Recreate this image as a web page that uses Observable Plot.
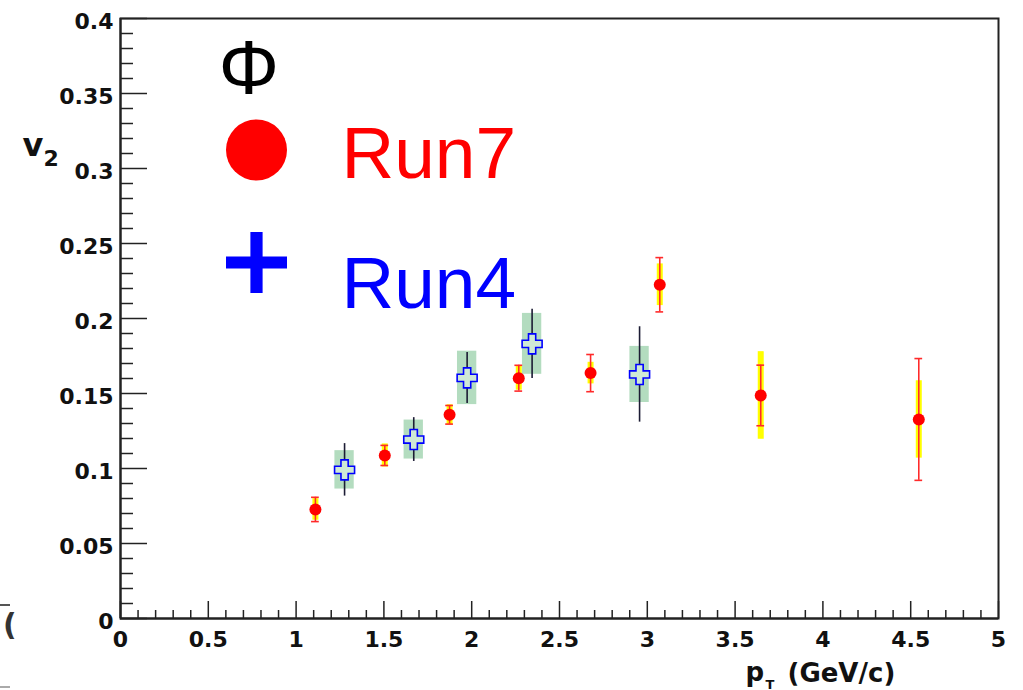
<!DOCTYPE html>
<html><head><meta charset="utf-8">
<script src="https://cdn.jsdelivr.net/npm/d3@7"></script>
<script src="https://cdn.jsdelivr.net/npm/@observablehq/plot@0.6"></script>
<style>
html,body{margin:0;padding:0;background:#fff;}
#chart{width:1023px;height:690px;position:relative;overflow:hidden;}
</style></head>
<body><div id="chart"></div>
<script>
// ---- data ----
const run7X    = [1.110, 1.505, 1.874, 2.268, 2.677, 3.071, 3.646, 4.546];
const run7V2   = [0.0727, 0.1087, 0.1358, 0.1602, 0.1636, 0.2225, 0.1487, 0.1327];
const run7Stat = [0.0081, 0.0067, 0.0062, 0.0086, 0.0124, 0.0181, 0.0202, 0.0406];
const run7Sys  = [0.0072, 0.0077, 0.0067, 0.0080, 0.0072, 0.0139, 0.0292, 0.0258];

const run4X    = [1.276, 1.670, 1.974, 2.344, 2.956];
const run4V2   = [0.0991, 0.1193, 0.1604, 0.1831, 0.1627];
const run4Stat = [0.0175, 0.0146, 0.0170, 0.0231, 0.0318];
const run4Sys  = [0.0128, 0.0130, 0.0178, 0.0203, 0.0187];

const xMajorTicks = [0, 0.5, 1, 1.5, 2, 2.5, 3, 3.5, 4, 4.5, 5];
const xTickLabels = ["0", "0.5", "1", "1.5", "2", "2.5", "3", "3.5", "4", "4.5", "5"];
const yMajorTicks = [0, 0.05, 0.1, 0.15, 0.2, 0.25, 0.3, 0.35, 0.4];
const yTickLabels = ["0", "0.05", "0.1", "0.15", "0.2", "0.25", "0.3", "0.35", "0.4"];

const particleLabel = "Φ";
const seriesLabels = ["Run7", "Run4"];
const xTitleMain = "p", xTitleSub = "T", xTitleRest = "(GeV/c)";
const yTitleMain = "v", yTitleSub = "2";

// ---- tables ----
const run7 = run7X.map((x, i) => ({x, v: run7V2[i], stat: run7Stat[i], sys: run7Sys[i]}));
const run4 = run4X.map((x, i) => ({x, v: run4V2[i], stat: run4Stat[i], sys: run4Sys[i]}));
const run7Caps = run7.flatMap(d => [{x: d.x, y: d.v + d.stat}, {x: d.x, y: d.v - d.stat}]);

const xMinorTicks = d3.range(0, 51).map(i => i / 10).filter(v => Math.abs(v * 2 - Math.round(v * 2)) > 1e-9);
const yMinorTicks = d3.range(0, 41).map(i => i / 100).filter(v => Math.abs(v * 20 - Math.round(v * 20)) > 1e-9);

const W = 1023, H = 690, ML = 120, MR = 25, MT = 18, MB = 72;
const FW = W - ML - MR, FH = H - MT - MB;

function plusSymbol(ratio) {
  return {
    draw(ctx, size) {
      const h = Math.sqrt(size / Math.PI), t = h * ratio;
      ctx.moveTo(-t, -h); ctx.lineTo(t, -h); ctx.lineTo(t, -t); ctx.lineTo(h, -t);
      ctx.lineTo(h, t); ctx.lineTo(t, t); ctx.lineTo(t, h); ctx.lineTo(-t, h);
      ctx.lineTo(-t, t); ctx.lineTo(-h, t); ctx.lineTo(-h, -t); ctx.lineTo(-t, -t);
      ctx.closePath();
    }
  };
}
const openCross = plusSymbol(0.36);
const thickPlus = plusSymbol(0.2);

const tickFont = "DejaVu Sans, Liberation Sans, sans-serif";
const legendFont = "Liberation Sans, Arial, sans-serif";
const ink = "#222";

const chart = Plot.plot({
  width: W, height: H,
  marginLeft: ML, marginRight: MR, marginTop: MT, marginBottom: MB,
  style: {fontFamily: tickFont, fontWeight: "bold", fontSize: "22px", background: "#fff", color: "#111"},
  x: {domain: [0, 5]},
  y: {domain: [0, 0.4]},
  marks: [
    // Run4 systematic boxes
    Plot.rect(run4, {x1: d => d.x - 0.055, x2: d => d.x + 0.055, y1: d => d.v - d.sys, y2: d => d.v + d.sys, fill: "#b3dcbf"}),
    // Run4 statistical errors
    Plot.ruleX(run4, {x: "x", y1: d => d.v - d.stat, y2: d => d.v + d.stat, stroke: "#1c1c34", strokeWidth: 1.6}),
    // Run7 systematics (yellow)
    Plot.ruleX(run7, {x: "x", y1: d => d.v - d.sys, y2: d => d.v + d.sys, stroke: "#ffff00", strokeWidth: 6}),
    // Run7 statistical errors
    Plot.ruleX(run7, {x: "x", y1: d => d.v - d.stat, y2: d => d.v + d.stat, stroke: "#ff2a2a", strokeWidth: 1.6}),
    Plot.ruleY(run7Caps, {y: "y", x1: d => d.x - 0.022, x2: d => d.x + 0.022, stroke: "#ff2a2a", strokeWidth: 1.6}),
    // markers
    Plot.dot(run7, {x: "x", y: "v", r: 6, fill: "#ff0000"}),
    Plot.dot(run4, {x: "x", y: "v", r: 10, symbol: openCross, fill: "#cfe9d5", stroke: "#0000ff", strokeWidth: 1.6}),

    // ticks (inward)
    Plot.tickX(xMajorTicks, {insetTop: FH - 17, stroke: ink, strokeWidth: 1.5}),
    Plot.tickX(xMinorTicks, {insetTop: FH - 8, stroke: ink, strokeWidth: 1.5}),
    Plot.tickY(yMajorTicks, {insetRight: FW - 27, stroke: ink, strokeWidth: 1.5}),
    Plot.tickY(yMinorTicks, {insetRight: FW - 13, stroke: ink, strokeWidth: 1.5}),
    Plot.frame({stroke: ink, strokeWidth: 2}),
    Plot.ruleX([0], {stroke: ink, strokeWidth: 2}),
    Plot.ruleY([0], {stroke: ink, strokeWidth: 2}),

    // axes labels
    Plot.axisX({ticks: xMajorTicks, tickFormat: d => xTickLabels[xMajorTicks.indexOf(d)], tickSize: 0, tickPadding: 13,
      fontSize: 22, fontWeight: "bold", fontFamily: tickFont, fill: "#111", label: null}),
    Plot.axisY({ticks: yMajorTicks, tickFormat: d => yTickLabels[yMajorTicks.indexOf(d)], tickSize: 0, tickPadding: 7,
      fontSize: 22, fontWeight: "bold", fontFamily: tickFont, fill: "#111", dy: 3, label: null}),

    // axis titles
    Plot.text([yTitleMain], {frameAnchor: "top-left", dx: 22 - ML, dy: 155 - MT, lineAnchor: "bottom", textAnchor: "start",
      fontSize: 32, fontWeight: "bold", fontFamily: tickFont, fill: "#111"}),
    Plot.text([yTitleSub], {frameAnchor: "top-left", dx: 43 - ML, dy: 165 - MT, lineAnchor: "bottom", textAnchor: "start",
      fontSize: 22, fontWeight: "bold", fontFamily: tickFont, fill: "#111"}),
    Plot.text([xTitleMain], {frameAnchor: "top-left", dx: 745 - ML, dy: 680 - MT, lineAnchor: "bottom", textAnchor: "start",
      fontSize: 26, fontWeight: "bold", fontFamily: tickFont, fill: "#111"}),
    Plot.text([xTitleSub], {frameAnchor: "top-left", dx: 765 - ML, dy: 688 - MT, lineAnchor: "bottom", textAnchor: "start",
      fontSize: 13, fontWeight: "bold", fontFamily: tickFont, fill: "#111"}),
    Plot.text([xTitleRest], {frameAnchor: "top-left", dx: 787 - ML, dy: 681 - MT, lineAnchor: "bottom", textAnchor: "start",
      fontSize: 26, fontWeight: "bold", fontFamily: tickFont, fill: "#111"}),

    // legend
    Plot.text([particleLabel], {frameAnchor: "top-left", dx: 218 - ML, dy: 93 - MT, lineAnchor: "bottom", textAnchor: "start",
      fontSize: 76, fontWeight: "normal", fontFamily: legendFont, fill: "#000"}),
    Plot.dot([seriesLabels[0]], {frameAnchor: "top-left", dx: 256 - ML, dy: 149.5 - MT, r: 30.5, fill: "#ff0000"}),
    Plot.text([seriesLabels[0]], {frameAnchor: "top-left", dx: 341 - ML, dy: 177 - MT, lineAnchor: "bottom", textAnchor: "start",
      fontSize: 73, fontWeight: "normal", fontFamily: legendFont, fill: "#ff0000"}),
    Plot.dot([seriesLabels[1]], {frameAnchor: "top-left", dx: 256 - ML, dy: 262 - MT, r: 30.5, symbol: thickPlus, fill: "#0000ff"}),
    Plot.text([seriesLabels[1]], {frameAnchor: "top-left", dx: 341 - ML, dy: 307 - MT, lineAnchor: "bottom", textAnchor: "start",
      fontSize: 73, fontWeight: "normal", fontFamily: legendFont, fill: "#0000ff"})
  ]
});
document.getElementById("chart").appendChild(chart);

// small cropped fragments from a neighbouring panel at the left edge
const svg = d3.select(chart);
svg.append("rect").attr("x", 0).attr("y", 604).attr("width", 10).attr("height", 2).attr("fill", "#555");
svg.append("rect").attr("x", 0).attr("y", 686).attr("width", 10).attr("height", 2).attr("fill", "#aaa");
svg.append("text").attr("x", 3).attr("y", 635).attr("font-size", 30).attr("font-weight", "bold")
  .attr("font-family", tickFont).attr("fill", "#333").attr("text-anchor", "start").text("(");
</script>
</body></html>
